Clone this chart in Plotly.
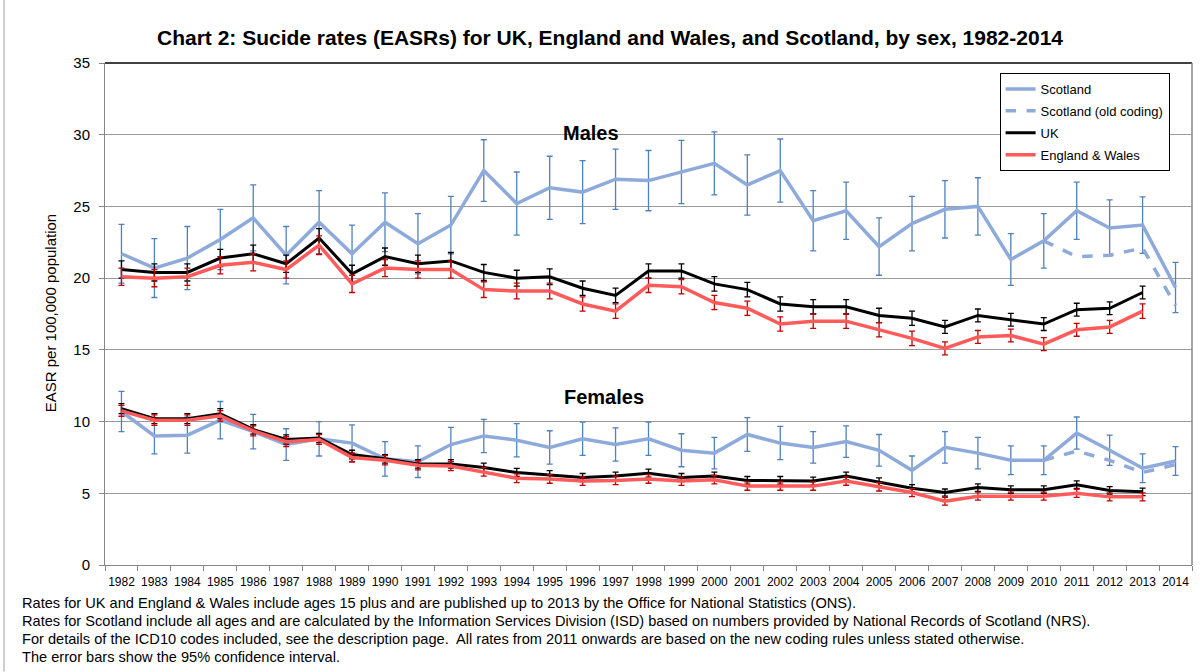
import plotly.graph_objects as go

years = [str(y) for y in range(1982, 2015)]

# Males
scot_m = [21.7, 20.7, 21.4, 22.7, 24.2, 21.6, 23.9, 21.7, 23.9, 22.4, 23.7, 27.5, 25.2, 26.3, 26.0,
          26.9, 26.8, 27.4, 28.0, 26.5, 27.5, 24.0, 24.7, 22.2, 23.8, 24.8, 25.0, 21.3, 22.6, 24.7,
          23.5, 23.7, 19.35]
scot_m_err = [2.05, 2.05, 2.2, 2.1, 2.3, 2.0, 2.2, 2.0, 2.05, 2.1, 2.0, 2.15, 2.2, 2.2, 2.2,
              2.1, 2.1, 2.2, 2.2, 2.1, 2.2, 2.1, 2.0, 2.0, 1.9, 2.0, 2.0, 1.8, 1.9, 2.0,
              1.95, 1.97, 1.75]
scot_m_old_years = ["2010", "2011", "2012", "2013", "2014"]
scot_m_old = [22.6, 21.5, 21.6, 22.1, 18.1]
uk_m = [20.6, 20.4, 20.4, 21.4, 21.7, 21.0, 22.8, 20.3, 21.5, 21.0, 21.2, 20.4, 20.0, 20.1, 19.3,
        18.8, 20.5, 20.5, 19.6, 19.2, 18.2, 18.0, 18.0, 17.4, 17.2, 16.6, 17.4, 17.1, 16.8, 17.8,
        17.9, 19.0]
uk_m_err = [0.6, 0.6, 0.6, 0.6, 0.6, 0.6, 0.65, 0.6, 0.6, 0.6, 0.6, 0.55, 0.55, 0.55, 0.5,
            0.5, 0.5, 0.5, 0.5, 0.5, 0.5, 0.5, 0.5, 0.5, 0.5, 0.45, 0.45, 0.45, 0.45, 0.45,
            0.45, 0.45]
ew_m = [20.1, 20.0, 20.1, 20.9, 21.1, 20.6, 22.3, 19.6, 20.7, 20.6, 20.6, 19.2, 19.1, 19.1, 18.2,
        17.7, 19.5, 19.4, 18.3, 17.9, 16.8, 17.0, 17.0, 16.4, 15.8, 15.1, 15.9, 16.0, 15.4, 16.4,
        16.6, 17.7]
ew_m_err = [0.6, 0.6, 0.6, 0.6, 0.6, 0.6, 0.65, 0.6, 0.6, 0.6, 0.6, 0.55, 0.55, 0.55, 0.5,
            0.5, 0.5, 0.5, 0.5, 0.5, 0.5, 0.5, 0.5, 0.5, 0.5, 0.45, 0.45, 0.45, 0.45, 0.45,
            0.45, 0.5]

# Females
scot_f = [10.7, 9.0, 9.05, 10.1, 9.3, 8.4, 8.8, 8.5, 7.4, 7.2, 8.4, 9.0, 8.7, 8.2, 8.8,
          8.4, 8.8, 8.0, 7.8, 9.1, 8.5, 8.2, 8.6, 8.0, 6.6, 8.2, 7.8, 7.3, 7.3, 9.2,
          8.0, 6.75, 7.25]
scot_f_err = [1.4, 1.25, 1.25, 1.3, 1.2, 1.1, 1.2, 1.27, 1.2, 1.1, 1.2, 1.16, 1.16, 1.16, 1.16,
              1.16, 1.16, 1.15, 1.1, 1.18, 1.16, 1.1, 1.1, 1.1, 1.0, 1.1, 1.1, 1.0, 1.0, 1.12,
              1.05, 1.0, 1.0]
scot_f_old_years = ["2010", "2011", "2012", "2013", "2014"]
scot_f_old = [7.3, 7.95, 7.3, 6.45, 7.0]
uk_f = [10.9, 10.2, 10.2, 10.55, 9.45, 8.75, 8.85, 7.7, 7.4, 7.05, 7.05, 6.8, 6.45, 6.3, 6.1,
        6.2, 6.4, 6.1, 6.2, 5.9, 5.9, 5.85, 6.2, 5.8, 5.35, 5.05, 5.4, 5.25, 5.25, 5.6,
        5.2, 5.1]
uk_f_err = [0.35, 0.35, 0.35, 0.35, 0.33, 0.32, 0.32, 0.3, 0.3, 0.3, 0.3, 0.3, 0.28, 0.28, 0.28,
            0.28, 0.28, 0.28, 0.28, 0.27, 0.27, 0.27, 0.27, 0.27, 0.26, 0.25, 0.26, 0.26, 0.26, 0.26,
            0.26, 0.26]
ew_f = [10.75, 10.1, 10.1, 10.4, 9.35, 8.6, 8.75, 7.5, 7.3, 6.95, 6.9, 6.5, 6.05, 6.0, 5.85,
        5.9, 6.0, 5.85, 5.95, 5.5, 5.5, 5.5, 5.85, 5.45, 5.05, 4.45, 4.8, 4.8, 4.8, 5.0,
        4.75, 4.75]
ew_f_err = [0.38, 0.37, 0.37, 0.37, 0.35, 0.34, 0.34, 0.32, 0.32, 0.32, 0.32, 0.31, 0.3, 0.3, 0.3,
            0.3, 0.3, 0.3, 0.3, 0.29, 0.29, 0.29, 0.29, 0.29, 0.28, 0.27, 0.28, 0.28, 0.28, 0.28,
            0.28, 0.28]

title_text = "Chart 2: Sucide rates (EASRs) for UK, England and Wales, and Scotland, by sex, 1982-2014"
footnotes = [
    "Rates for UK and England & Wales include ages 15 plus and are published up to 2013 by the Office for National Statistics (ONS).",
    "Rates for Scotland include all ages and are calculated by the Information Services Division (ISD) based on numbers provided by National Records of Scotland (NRS).",
    "For details of the ICD10 codes included, see the description page.  All rates from 2011 onwards are based on the new coding rules unless stated otherwise.",
    "The error bars show the 95% confidence interval.",
]

SCOT = "#8EAADB"
SCOT_ERR = "#4F81BD"
UK = "#000000"
EW = "#FF5B5B"
EW_ERR = "#C00000"
FONT = "Liberation Sans, Arial, sans-serif"

fig = go.Figure()

def add(x, y, err, color, errcolor, name, group, show, dash="solid", width=3.5):
    kw = {}
    if err is not None:
        kw["error_y"] = dict(type="data", array=err, visible=True, color=errcolor,
                             thickness=1.3, width=3)
    fig.add_trace(go.Scatter(x=x, y=y, mode="lines", name=name, legendgroup=group,
                             showlegend=show, line=dict(color=color, width=width, dash=dash),
                             **kw))

add(years, scot_m, scot_m_err, SCOT, SCOT_ERR, "Scotland", "scot", True)
add(years, scot_f, scot_f_err, SCOT, SCOT_ERR, "Scotland", "scot", False)
add(scot_m_old_years, scot_m_old, None, SCOT, SCOT, "Scotland (old coding)", "old", True, dash="dash")
add(scot_f_old_years, scot_f_old, None, SCOT, SCOT, "Scotland (old coding)", "old", False, dash="dash")
add(years[:len(uk_m)], uk_m, uk_m_err, UK, UK, "UK", "uk", True, width=3)
add(years[:len(uk_f)], uk_f, uk_f_err, UK, UK, "UK", "uk", False, width=3)
add(years[:len(ew_m)], ew_m, ew_m_err, EW, EW_ERR, "England & Wales", "ew", True)
add(years[:len(ew_f)], ew_f, ew_f_err, EW, EW_ERR, "England & Wales", "ew", False)

L, R, T, B = 105, 7.5, 63, 106.5
PW = 1200 - L - R
PH = 672 - T - B

def px_x(p):
    return (p - L) / PW

def px_y(p):
    return (672 - B - p) / PH

annotations = [
    dict(text="<b>Males</b>", x=px_x(591), y=px_y(120), xref="paper", yref="paper",
         showarrow=False, font=dict(size=20, color="black", family=FONT)),
    dict(text="<b>Females</b>", x=px_x(604), y=px_y(397), xref="paper", yref="paper",
         showarrow=False, font=dict(size=20, color="black", family=FONT)),
    dict(text="EASR per 100,000 population", x=px_x(40), y=px_y(314), xref="paper", yref="paper",
         showarrow=False, textangle=-90, font=dict(size=15, color="black", family=FONT)),
]
for i, t in enumerate(footnotes):
    annotations.append(dict(text=t, x=px_x(20), y=px_y(604 + 18 * i), xref="paper", yref="paper",
                            xanchor="left", yanchor="middle", showarrow=False,
                            font=dict(size=14.6, color="black", family=FONT)))

fig.update_layout(
    width=1200, height=672,
    margin=dict(l=L, r=R, t=T, b=B, autoexpand=False),
    paper_bgcolor="white", plot_bgcolor="white",
    font=dict(family=FONT, color="black"),
    title=dict(text="<b>" + title_text + "</b>", xref="container", x=610 / 1200, xanchor="center",
               yref="container", y=1 - 38 / 672, yanchor="middle",
               font=dict(size=21, family=FONT, color="black")),
    xaxis=dict(type="category", categoryorder="array", categoryarray=years,
               range=[-0.5, len(years) - 0.5], tickson="boundaries", ticks="outside",
               ticklen=5, tickcolor="#868686", showline=True, linecolor="#868686",
               linewidth=1, showgrid=False, tickfont=dict(size=12, family=FONT),
               tickangle=0, mirror=False, ticklabelstandoff=6),
    yaxis=dict(range=[0, 35], dtick=5, tick0=0, showgrid=True, gridcolor="#9A9A9A",
               gridwidth=1, showline=True, linecolor="#868686", linewidth=1,
               ticks="outside", ticklen=5, tickcolor="#868686",
               tickfont=dict(size=15, family=FONT), zeroline=False, ticklabelstandoff=6),
    legend=dict(x=px_x(1000), y=px_y(73), xanchor="left", yanchor="top",
                bordercolor="black", borderwidth=1, bgcolor="white",
                font=dict(size=13, family=FONT), traceorder="grouped",
                tracegroupgap=2),
    showlegend=True,
    annotations=annotations,
    shapes=[
        dict(type="line", xref="paper", yref="paper", x0=0, x1=1, y0=1, y1=1,
             line=dict(color="black", width=1.5)),
        dict(type="line", xref="paper", yref="paper", x0=1, x1=1, y0=0, y1=1,
             line=dict(color="#868686", width=1.5)),
        dict(type="line", xref="paper", yref="paper", x0=px_x(4), x1=px_x(4),
             y0=px_y(0), y1=px_y(672), line=dict(color="#BFBFBF", width=1.5)),
    ],
)

fig.write_html("out.html", config={"displayModeBar": False},
               post_script="document.body.style.margin='0';document.body.style.overflow='hidden';")
